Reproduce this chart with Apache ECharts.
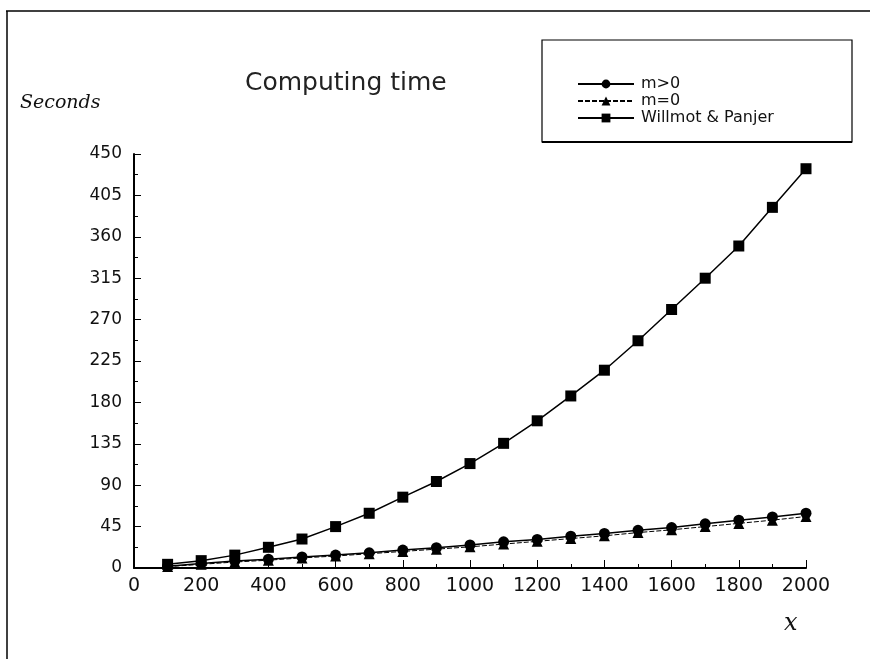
<!DOCTYPE html>
<html>
<head>
<meta charset="utf-8">
<script src="https://cdn.jsdelivr.net/npm/echarts@6/dist/echarts.min.js"></script>
<style>
html, body { margin: 0; padding: 0; background: #fff; }
#chart { width: 870px; height: 659px; }
</style>
</head>
<body>
<div id="chart"></div>
<script>
var xValues = [100, 200, 300, 400, 500, 600, 700, 800, 900, 1000,
	1100, 1200, 1300, 1400, 1500, 1600, 1700, 1800, 1900, 2000];
var mPositive = [2, 5, 7.5, 9.5, 12, 14, 16.5, 19.5, 22, 25,
	28.5, 31, 34.5, 37.5, 41, 44, 48, 52, 55.5, 59.5];
var mZero = [1.5, 4, 6.5, 8.5, 11, 13, 15.5, 18, 20.5, 23,
	26, 29, 32, 35, 38.5, 41.5, 45, 48.5, 52, 56];
var willmot = [4, 8, 14, 22.5, 31.5, 45, 59.5, 77, 94, 113.5,
	135.5, 160, 187, 215, 247, 281, 315, 350, 392, 434];
var seriesNames = ['m>0', 'm=0', 'Willmot & Panjer'];

function pairs(ys) {
	return xValues.map(function (x, i) { return [x, ys[i]]; });
}

var myChart = echarts.init(document.getElementById('chart'));
var option = {
	backgroundColor: '#fff',
	animation: false,
	title: {
		text: 'Computing time',
		left: 240,
		top: 66,
		textStyle: { fontFamily: 'DejaVu Sans', fontWeight: 'normal', fontSize: 25, color: '#222' }
	},
	legend: {
		orient: 'vertical',
		left: 572,
		top: 71,
		itemGap: 1,
		itemWidth: 56,
		itemHeight: 11,
		textStyle: { fontFamily: 'DejaVu Sans', fontSize: 16, color: '#111', padding: [0, 0, 0, 2] },
		data: seriesNames
	},
	grid: { left: 134, right: 64, top: 154, bottom: 91 },
	xAxis: {
		type: 'value',
		min: 0,
		max: 2000,
		interval: 200,
		axisLine: { lineStyle: { color: '#000', width: 2 } },
		axisTick: { inside: true, length: 8, lineStyle: { color: '#000' } },
		minorTick: { show: true, splitNumber: 2, length: 4, lineStyle: { color: '#000' } },
		splitLine: { show: false },
		axisLabel: {
			margin: 9,
			fontFamily: 'DejaVu Sans',
			fontSize: 19,
			color: '#111',
			formatter: function (v) { return String(v); }
		}
	},
	yAxis: {
		type: 'value',
		min: 0,
		max: 450,
		interval: 45,
		axisLine: { show: true, lineStyle: { color: '#000', width: 2 } },
		axisTick: { show: true, inside: true, length: 7, lineStyle: { color: '#000' } },
		minorTick: { show: true, splitNumber: 2, length: 4, lineStyle: { color: '#000' } },
		splitLine: { show: false },
		axisLabel: { margin: 12, fontFamily: 'DejaVu Sans', fontSize: 17, color: '#111' }
	},
	graphic: [
		{ type: 'line', shape: { x1: 6, y1: 11, x2: 870, y2: 11 }, style: { stroke: '#000', lineWidth: 1.5 } },
		{ type: 'line', shape: { x1: 7, y1: 11, x2: 7, y2: 659 }, style: { stroke: '#000', lineWidth: 1.5 } },
		{ type: 'rect', shape: { x: 542, y: 40, width: 310, height: 102 }, style: { fill: 'none', stroke: '#000', lineWidth: 1.2 } },
		{ type: 'line', shape: { x1: 542, y1: 142, x2: 852, y2: 142 }, style: { stroke: '#000', lineWidth: 2 } },
		{ type: 'text', left: 20, top: 94, style: { text: 'Seconds', font: 'italic 19px "DejaVu Serif"', fill: '#111' } },
		{ type: 'text', left: 784, top: 612, style: { text: 'x', font: 'italic 24px "DejaVu Serif"', fill: '#111' } }
	],
	series: [
		{
			name: seriesNames[0],
			type: 'line',
			data: pairs(mPositive),
			symbol: 'circle',
			symbolSize: 11,
			itemStyle: { color: '#000' },
			lineStyle: { color: '#000', width: 1.5 }
		},
		{
			name: seriesNames[1],
			type: 'line',
			data: pairs(mZero),
			symbol: 'triangle',
			symbolSize: 11,
			itemStyle: { color: '#000' },
			lineStyle: { color: '#000', width: 1, type: [5, 2] }
		},
		{
			name: seriesNames[2],
			type: 'line',
			data: pairs(willmot),
			symbol: 'rect',
			symbolSize: 11,
			itemStyle: { color: '#000' },
			lineStyle: { color: '#000', width: 1.5 }
		}
	]
};
myChart.setOption(option);
</script>
</body>
</html>
